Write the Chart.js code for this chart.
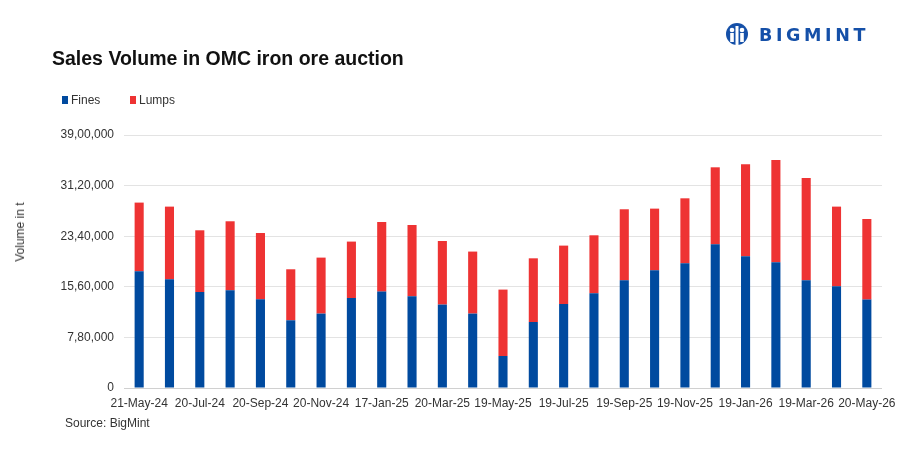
<!DOCTYPE html>
<html>
<head>
<meta charset="utf-8">
<script src="https://cdn.jsdelivr.net/npm/chart.js@4"></script>
<style>
  body { margin: 0; background: #fff; font-family: "Liberation Sans", Arial, sans-serif; }
  #wrap { position: relative; width: 910px; height: 458px; }
  #chartBox { position: absolute; left: 0; top: 0; width: 910px; height: 458px; }
  #title { position: absolute; left: 52px; top: 47px; font-size: 19.5px; font-weight: bold; color: #111; }
  .legend { position: absolute; top: 93px; font-size: 12px; color: #333; }
  .legend span { display: inline-block; width: 6px; height: 8px; margin-right: 3px; }
  #yTitle { position: absolute; left: 20px; top: 232px; font-size: 12px; color: #333;
            transform: translate(-50%, -50%) rotate(-90deg); white-space: nowrap; }
  #source { position: absolute; left: 65px; top: 416px; font-size: 12px; color: #333; }
  #logo { position: absolute; left: 724px; top: 23px; display: flex; align-items: center; }
  #logo b { font-size: 17.5px; color: #1550a8; letter-spacing: 3.6px; margin-left: 9px; font-family: "DejaVu Sans", sans-serif; }
</style>
</head>
<body>
<div id="wrap">
  <div id="chartBox"><canvas id="salesChart"></canvas></div>
  <div id="title">Sales Volume in OMC iron ore auction</div>
  <div class="legend" style="left:62px"><span style="background:#004a9f"></span>Fines</div>
  <div class="legend" style="left:130px"><span style="background:#ee3333"></span>Lumps</div>
  <div id="yTitle">Volume in t</div>
  <div id="source">Source: BigMint</div>
  <div id="logo">
    <svg width="26" height="24" viewBox="0 0 26 24">
      <circle cx="13" cy="11" r="11" fill="#1550a8"/>
      <circle cx="8" cy="7" r="2.3" fill="#fff"/>
      <circle cx="18" cy="7" r="2.3" fill="#fff"/>
      <rect x="6.2" y="10" width="3.6" height="9" fill="#fff"/>
      <rect x="16.2" y="10" width="3.6" height="9" fill="#fff"/>
      <rect x="11.5" y="3" width="3" height="21" fill="#fff"/>
    </svg>
    <b>BIGMINT</b>
  </div>
</div>
<script>
const dates = ["21-May-24", "20-Jun-24", "20-Jul-24", "20-Aug-24", "20-Sep-24", "21-Oct-24",
    "20-Nov-24", "20-Dec-24", "17-Jan-25", "20-Feb-25", "20-Mar-25", "21-Apr-25",
    "19-May-25", "19-Jun-25", "19-Jul-25", "19-Aug-25", "19-Sep-25", "20-Oct-25",
    "19-Nov-25", "19-Dec-25", "19-Jan-26", "19-Feb-26", "19-Mar-26", "20-Apr-26", "20-May-26"];
const fines = [1799000, 1676000, 1480000, 1506000, 1367000, 1044000, 1147000, 1387000, 1486000, 1414000,
    1286000, 1147000, 493000, 1017000, 1295000, 1460000, 1660000, 1814000, 1922000, 2215000,
    2030000, 1938000, 1660000, 1568000, 1363000];
const lumps = [1059000, 1120000, 951000, 1064000, 1022000, 786000, 863000, 870000, 1073000, 1099000,
    980000, 956000, 1024000, 982000, 900000, 894000, 1095000, 951000, 1002000, 1187000,
    1418000, 1577000, 1577000, 1228000, 1242000];
const yTicks = [0, 780000, 1560000, 2340000, 3120000, 3900000];

function indianFormat(n) {
    let s = String(Math.round(n));
    if (s.length <= 3) return s;
    let last = s.slice(-3);
    let rest = s.slice(0, -3);
    rest = rest.replace(/\B(?=(\d{2})+(?!\d))/g, ",");
    return rest + "," + last;
}

const ctx = document.getElementById("salesChart").getContext("2d");
new Chart(ctx, {
    type: "bar",
    data: {
        labels: dates,
        datasets: [
            { label: "Fines", data: fines, backgroundColor: "#004a9f", barPercentage: 0.3, categoryPercentage: 1 },
            { label: "Lumps", data: lumps, backgroundColor: "#ee3333", barPercentage: 0.3, categoryPercentage: 1 }
        ]
    },
    options: {
        responsive: true,
        maintainAspectRatio: false,
        animation: false,
        layout: { padding: { left: 0, right: 28, top: 135, bottom: 40 } },
        plugins: { legend: { display: false }, tooltip: { enabled: false } },
        scales: {
            x: {
                stacked: true,
                grid: { display: false },
                border: { display: false },
                ticks: {
                    autoSkip: false, maxRotation: 0, color: "#333", padding: 0,
                    font: { family: "Liberation Sans", size: 12 },
                    callback: function (v, i) { return i % 2 === 0 ? dates[i] : ""; }
                },
                afterFit: s => { s.height = 30; }
            },
            y: {
                stacked: true,
                min: 0, max: 3900000,
                afterBuildTicks: s => { s.ticks = yTicks.map(v => ({ value: v })); },
                grid: { color: c => c.tick && c.tick.value === 0 ? "#d0d0d0" : "#e3e3e3", drawTicks: false, lineWidth: 1 },
                border: { display: false },
                ticks: {
                    color: "#333", padding: 10,
                    font: { family: "Liberation Sans", size: 12 },
                    callback: v => indianFormat(v)
                },
                afterFit: s => { s.width = 124; }
            }
        }
    }
});
</script>
</body>
</html>
